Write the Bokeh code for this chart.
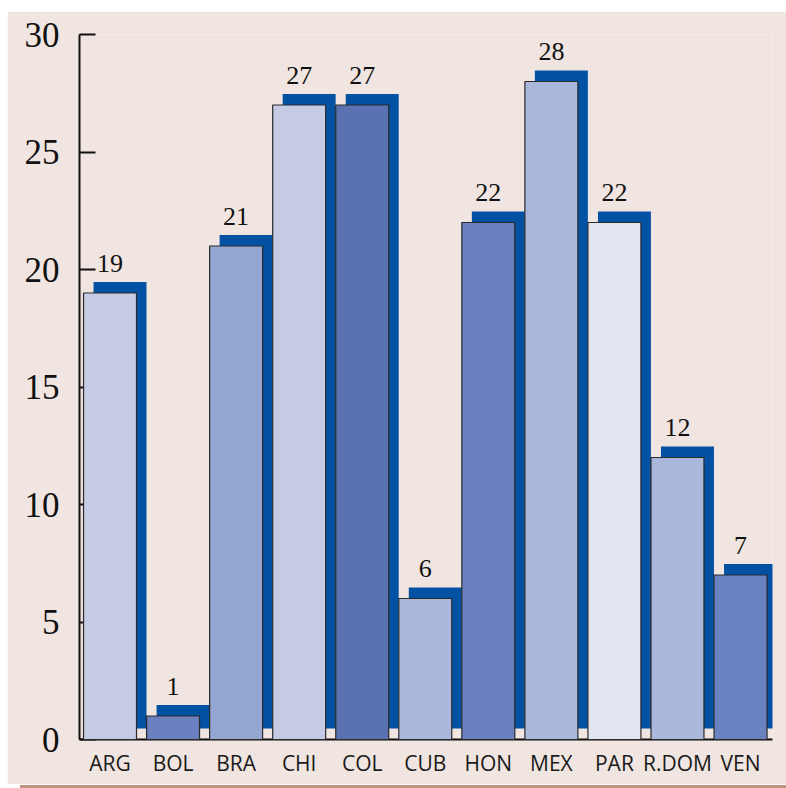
from bokeh.plotting import figure
from bokeh.models import Range1d, FixedTicker, ColumnDataSource, Div
from bokeh.layouts import column
from bokeh.core.properties import value
from bokeh.embed import file_html
from bokeh.resources import INLINE

# --- data -------------------------------------------------------------
countries = ["ARG", "BOL", "BRA", "CHI", "COL", "CUB", "HON", "MEX", "PAR", "R.DOM", "VEN"]
values = [19, 1, 21, 27, 27, 6, 22, 28, 22, 12, 7]
bar_colors = ["#c5cbe5", "#6a80bf", "#94a6d2", "#c5cbe5", "#5a72b2", "#aab8dc",
              "#6a80bf", "#aab8db", "#e0e5f0", "#aab8dc", "#6a82c0"]
y_ticks = [0, 5, 10, 15, 20, 25, 30]

# --- styling ----------------------------------------------------------
BG = "#f0e5e0"
SHADOW = "#0351a2"
RULE = "#c3917f"
X_MIN, X_MAX = -0.484, 10.507
Y_MAX = 30
FRAME_W, FRAME_H = 693, 705
BAR_W = 0.84
# drop-shadow offset in pixels, converted to data units
SHADOW_DX = 10 * (X_MAX - X_MIN) / FRAME_W
SHADOW_DY = 11 * Y_MAX / FRAME_H

xs = list(range(len(countries)))
src = ColumnDataSource(dict(
    x=xs,
    top=values,
    color=bar_colors,
    label=[str(v) for v in values],
    sx=[x + SHADOW_DX for x in xs],
    stop=[v + SHADOW_DY for v in values],
    sbottom=[SHADOW_DY] * len(values),
))

p = figure(
    width=779, height=773,
    x_range=Range1d(X_MIN, X_MAX), y_range=Range1d(0, Y_MAX),
    output_backend="svg", toolbar_location=None,
    min_border_left=72, min_border_right=14, min_border_top=23, min_border_bottom=45,
    background_fill_color=BG, border_fill_color=BG, outline_line_color=None,
    margin=(11, 0, 1, 7),
)
p.grid.visible = False

# shadows behind each bar, then the bars themselves
p.vbar(x="sx", bottom="sbottom", top="stop", width=BAR_W, source=src,
       fill_color=SHADOW, line_color=None, level="overlay")
p.vbar(x="x", bottom=0, top="top", width=BAR_W, source=src,
       fill_color="color", line_color="#2a2a2a", line_width=1.2, level="overlay")

# value labels above the bars
p.text(x="x", y="top", text="label", source=src,
       text_font=value("Liberation Serif"), text_font_size="26px",
       text_align="center", text_baseline="alphabetic", y_offset=-30,
       text_color="#111111", level="overlay")

# y axis
yax = p.yaxis[0]
yax.ticker = FixedTicker(ticks=y_ticks)
yax.axis_line_width = 2
yax.axis_line_color = "#111111"
yax.major_tick_in = 16
yax.major_tick_out = 0
yax.major_tick_line_width = 2
yax.major_tick_line_color = "#111111"
yax.minor_tick_line_color = None
yax.major_label_text_font = "Liberation Serif"
yax.major_label_text_font_size = "35px"
yax.major_label_text_color = "#111111"
yax.major_label_standoff = 20

# x axis with country codes
xax = p.xaxis[0]
xax.ticker = FixedTicker(ticks=xs)
xax.major_label_overrides = {i: c for i, c in enumerate(countries)}
xax.axis_line_width = 2
xax.axis_line_color = "#111111"
xax.major_tick_line_color = None
xax.minor_tick_line_color = None
xax.major_label_text_font = "Open Sans"
xax.major_label_text_font_size = "21px"
xax.major_label_text_color = "#1a1a1a"
xax.major_label_standoff = 3

# thin rule under the panel
rule = Div(text="", width=766, height=3, margin=(0, 0, 0, 20),
           styles={"background-color": RULE})

layout = column(p, rule, spacing=0)

with open("out.html", "w") as f:
    f.write(file_html(layout, INLINE))
